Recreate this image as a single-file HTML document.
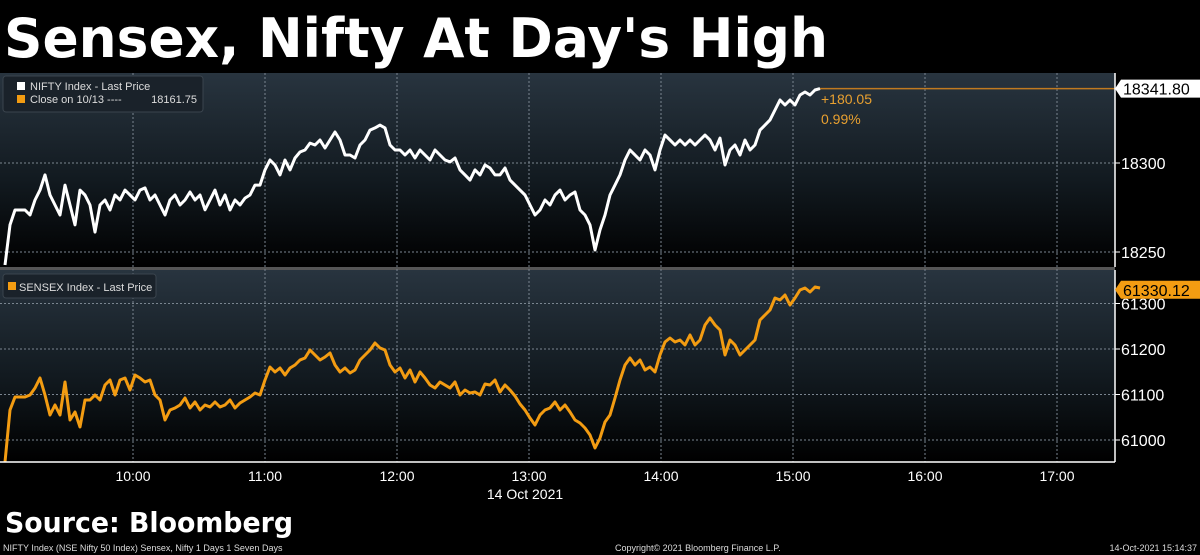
<!DOCTYPE html>
<html><head><meta charset="utf-8"><style>
html,body{margin:0;padding:0;background:#000;width:1200px;height:555px;overflow:hidden}
svg{display:block;font-family:"Liberation Sans",sans-serif}
</style></head><body>
<svg id="chart" width="1200" height="555" viewBox="0 0 1200 555">
<defs>
<linearGradient id="pg" x1="0" y1="0" x2="0" y2="1"><stop offset="0" stop-color="#28343f"/><stop offset="0.55" stop-color="#121a20"/><stop offset="1" stop-color="#000"/></linearGradient>
</defs>
<rect width="1200" height="555" fill="#000"/>
<text x="4" y="57" font-size="54" font-weight="bold" fill="#fff" font-family="DejaVu Sans, sans-serif" textLength="824" lengthAdjust="spacingAndGlyphs">Sensex, Nifty At Day's High</text>
<rect x="0" y="73" width="1115" height="194" fill="url(#pg)"/>
<rect x="0" y="270" width="1115" height="192" fill="url(#pg)"/>
<rect x="0" y="267" width="1115" height="3" fill="#555"/>
<g id="grid"></g>
<g id="series"></g>
<g id="axes"></g>
<g>
<rect x="3" y="76" width="200" height="36" rx="3" fill="#1a222a" stroke="#3a444d"/>
<rect x="17" y="82" width="8" height="8" fill="#fff"/>
<rect x="17" y="95" width="8" height="8" fill="#f39c12"/>
<text x="30" y="90" font-size="11" fill="#ddd">NIFTY Index - Last Price</text>
<text x="30" y="103" font-size="11" fill="#ddd">Close on 10/13 ----</text>
<text x="197" y="103" font-size="11" fill="#ddd" text-anchor="end">18161.75</text>
</g>
<g>
<rect x="3" y="274" width="153" height="24" rx="3" fill="#1a222a" stroke="#3a444d"/>
<rect x="8" y="282" width="8" height="8" fill="#f39c12"/>
<text x="19" y="291" font-size="11" fill="#ddd">SENSEX Index - Last Price</text>
</g>
<text x="821" y="104" font-size="14" fill="#e8a030">+180.05</text>
<text x="821" y="124" font-size="14" fill="#e8a030">0.99%</text>
<text x="525" y="499" font-size="14" fill="#fff" text-anchor="middle">14 Oct 2021</text>
<text x="5" y="532" font-size="28" font-weight="bold" fill="#fff" font-family="DejaVu Sans, sans-serif" textLength="288" lengthAdjust="spacingAndGlyphs">Source: Bloomberg</text>
<text x="3" y="551" font-size="9" fill="#ddd">NIFTY Index (NSE Nifty 50 Index) Sensex, Nifty 1 Days 1 Seven Days</text>
<text x="615" y="551" font-size="9" fill="#ddd">Copyright© 2021 Bloomberg Finance L.P.</text>
<text x="1197" y="551" font-size="9" fill="#ddd" text-anchor="end">14-Oct-2021 15:14:37</text>
</svg>
<script>
const hourLabels=["10:00","11:00","12:00","13:00","14:00","15:00","16:00","17:00"];
const niftyTicks=[18250,18300];
const sensexTicks=[61000,61100,61200,61300];
const niftyClose=18341.8;
const sensexLast=61330.12;
const niftyValues=[18242.7,18265.2,18273.6,18273.6,18273.6,18270.8,18279.2,18284.8,18293.3,18282.0,18276.4,18270.8,18287.6,18276.4,18265.2,18284.8,18282.0,18276.4,18261.2,18276.4,
18279.2,18273.6,18282.0,18279.2,18284.8,18282.0,18279.2,18284.8,18286.0,18279.2,18282.0,18276.4,18270.8,18279.2,18282.0,18276.4,18279.2,18283.7,18279.2,18282.0,
18273.7,18279.2,18284.8,18276.4,18282.0,18273.6,18279.2,18276.4,18280.3,18282.0,18287.6,18287.6,18296.1,18301.7,18298.9,18293.3,18301.7,18296.1,18302.8,18306.2,
18307.3,18311.2,18310.1,18312.9,18308.4,18312.9,18317.4,18312.9,18304.5,18304.5,18302.8,18310.1,18312.9,18318.5,18319.7,18321.3,18319.7,18310.1,18307.3,18307.3,
18304.5,18307.3,18302.8,18307.3,18304.5,18301.7,18307.3,18304.5,18301.7,18300.6,18302.8,18296.1,18293.3,18290.4,18296.1,18293.3,18298.9,18297.2,18293.3,18293.3,
18297.2,18290.4,18287.6,18284.8,18282.0,18276.4,18270.8,18273.6,18279.2,18276.4,18282.0,18284.8,18279.2,18282.0,18283.7,18273.6,18270.8,18265.2,18251.1,18262.4,
18270.8,18282.0,18287.6,18293.3,18301.7,18307.3,18304.5,18301.7,18307.3,18304.5,18296.1,18307.3,18315.7,18312.9,18310.1,18312.9,18310.1,18312.9,18310.1,18312.9,
18315.7,18312.9,18307.3,18314.0,18298.9,18307.3,18310.1,18304.5,18312.9,18307.3,18310.1,18318.5,18321.3,18324.2,18329.8,18335.4,18332.6,18335.4,18332.6,18338.2,
18339.9,18338.2,18341.0,18341.8];
const sensexValues=[60951.6,61065.9,61094.5,61094.5,61094.5,61098.9,61114.3,61136.3,61098.9,61055.0,61076.9,61055.0,61127.5,61044.0,61061.5,61028.6,61087.9,61087.9,61098.9,61087.9,
61120.9,61131.9,61098.9,61131.9,61136.3,61109.9,61142.9,61136.3,61127.5,61131.9,61098.9,61087.9,61044.0,61065.9,61070.3,61076.9,61092.3,61070.3,61083.5,61065.9,
61076.9,61072.5,61083.5,61072.5,61076.9,61087.9,61070.3,61081.3,61087.9,61094.5,61103.3,61098.9,61131.9,61160.5,61149.5,61158.3,61142.9,61158.3,61164.9,61175.8,
61180.2,61197.8,61186.8,61175.8,61182.4,61191.2,61164.9,61149.5,61158.3,61147.3,61153.9,61175.8,61186.8,61197.8,61213.2,61202.2,61197.8,61164.9,61149.5,61158.3,
61136.3,61153.9,61127.5,61149.5,61136.3,61120.9,61114.3,61127.5,61120.9,61114.3,61127.5,61098.9,61109.9,61103.3,61105.5,61098.9,61123.1,61120.9,61131.9,61105.5,
61120.9,61109.9,61096.7,61079.1,61065.9,61048.4,61033.0,61055.0,61065.9,61070.3,61083.5,61065.9,61076.9,61061.5,61044.0,61037.4,61026.4,61011.0,60982.4,61004.4,
61039.6,61055.0,61092.3,61131.9,61164.9,61180.2,61164.9,61175.8,61153.9,61160.5,61149.5,61186.8,61215.4,61224.2,61215.4,61219.8,61208.8,61230.8,61208.8,61219.8,
61252.8,61268.2,61252.8,61241.8,61186.8,61219.8,61208.8,61186.8,61197.8,61208.8,61219.8,61263.8,61274.8,61285.7,61312.1,61307.7,61318.7,61296.7,61312.1,61329.7,
61334.1,61325.3,61336.3,61334.1];
const NS='http://www.w3.org/2000/svg';
const PX_PER_MIN=2.2, X0=1;
const xOfMin=m=>X0+m*PX_PER_MIN;
const idxMin=i=>(4+5*i)/PX_PER_MIN; // sampling instants, minutes after 09:00
const yNifty=v=>163-(v-18300)*1.78;
const ySensex=v=>440-(v-61000)*0.455;
function mk(tag,attrs,parent){const e=document.createElementNS(NS,tag);for(const k in attrs)e.setAttribute(k,attrs[k]);parent.appendChild(e);return e;}
const grid=document.getElementById('grid'),axes=document.getElementById('axes'),series=document.getElementById('series');
hourLabels.forEach((h,i)=>{
  const x=xOfMin(60*(i+1));
  const g=mk('line',{x1:x,x2:x,y1:73,y2:462,stroke:'#7a8590','stroke-width':1,'stroke-dasharray':'2,2'},grid);
  
  
  const t=mk('text',{x:x,y:481,'font-size':14,fill:'#fff','text-anchor':'middle'},axes);
  t.textContent=h;
  
  
});
const ax=mk('line',{x1:0,x2:1115,y1:462,y2:462,stroke:'#fff','stroke-width':1.5},axes);


[[73,267],[270,462]].forEach(([a,b])=>{const l=mk('line',{x1:1115,x2:1115,y1:a,y2:b,stroke:'#fff','stroke-width':1.5},axes);

});
function ticks(vals,yf,name){vals.forEach(v=>{const y=yf(v);
  const g=mk('line',{x1:0,x2:1115,y1:y,y2:y,stroke:'#7a8590','stroke-width':1,'stroke-dasharray':'2,2'},grid);
  
  
  mk('line',{x1:1115,x2:1120,y1:y,y2:y,stroke:'#fff'},axes);
  const t=mk('text',{x:1121,y:y+6,'font-size':16,fill:'#fff'},axes);t.textContent=v;
  
  });}
ticks(niftyTicks,yNifty,'nifty-y-tick');
ticks(sensexTicks,ySensex,'sensex-y-tick');
function line(vals,yf,color,name){
  const d=vals.map((v,i)=>(i?'L':'M')+xOfMin(idxMin(i)).toFixed(1)+','+yf(v).toFixed(1)).join('');
  const p=mk('path',{d:d,fill:'none',stroke:color,'stroke-width':3,'stroke-linejoin':'round'},series);
  
  
}
const cy=yNifty(niftyClose);
const cl=mk('line',{x1:xOfMin(idxMin(niftyValues.length-1)),x2:1115,y1:cy,y2:cy,stroke:'#c07a20','stroke-width':1.5},series);


line(niftyValues,yNifty,'#fff','nifty-line');
line(sensexValues,ySensex,'#f39c12','sensex-line');
function tag(y,txt,bg,name){
  const p=mk('path',{d:`M1115,${y} L1121,${y-9} L1200,${y-9} L1200,${y+9} L1121,${y+9} Z`,fill:bg},axes);
  
  
  const t=mk('text',{x:1123,y:y+6,'font-size':16,fill:'#000'},axes);t.textContent=txt;
  
  
}
tag(cy,niftyClose.toFixed(2),'#fff','nifty-last-price-tag');
tag(ySensex(sensexLast),sensexLast.toFixed(2),'#f39c12','sensex-last-price-tag');
</script>
</body></html>
